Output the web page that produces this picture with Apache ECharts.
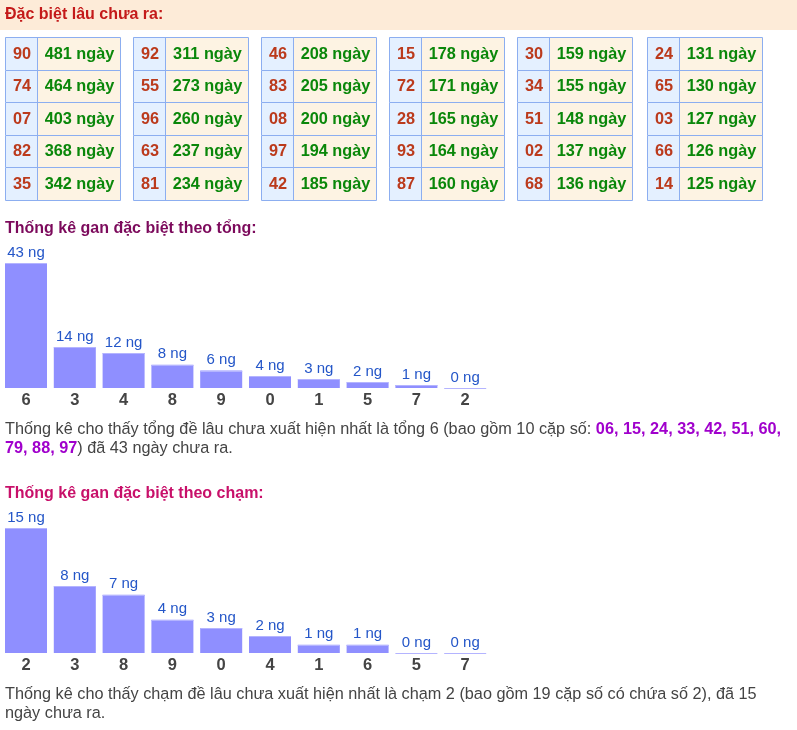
<!DOCTYPE html>
<html>
<head>
<meta charset="utf-8">
<script src="https://cdn.jsdelivr.net/npm/echarts@6/dist/echarts.min.js"></script>
<style>
html,body{margin:0;padding:0;background:#fff;}
#main{width:797px;height:730px;}
</style>
</head>
<body>
<div id="main"></div>
<script>
// ---- data ----
const tableNums = [
  ['90','74','07','82','35'],
  ['92','55','96','63','81'],
  ['46','83','08','97','42'],
  ['15','72','28','93','87'],
  ['30','34','51','02','68'],
  ['24','65','03','66','14']
];
const tableDays = [
  [481,464,403,368,342],
  [311,273,260,237,234],
  [208,205,200,194,185],
  [178,171,165,164,160],
  [159,155,148,137,136],
  [131,130,127,126,125]
];
const rowLabels = ['r1','r2','r3','r4','r5'];
const tongCats = ['6','3','4','8','9','0','1','5','7','2'];
const tongVals = [43,14,12,8,6,4,3,2,1,0];
const chamCats = ['2','3','8','9','0','4','1','6','5','7'];
const chamVals = [15,8,7,4,3,2,1,1,0,0];
const tongPairs = ['06','15','24','33','42','51','60','79','88','97'];

const FONT = '"Liberation Sans", Arial, sans-serif';
const chart = echarts.init(document.getElementById('main'), null, {renderer:'canvas'});

const grids = [], xAxes = [], yAxes = [], series = [];
const groupLeft = [5,133,261,389,517,647];

tableNums.forEach((col, g) => {
  grids.push({left: groupLeft[g], top: 37, width: 115, height: 162.5});
  xAxes.push({type:'value', gridIndex:g, min:0, max:1, show:false});
  yAxes.push({type:'category', gridIndex:g, data:rowLabels, inverse:true, show:false});
  series.push({
    type:'custom', xAxisIndex:g, yAxisIndex:g,
    data: col.map((n,i)=>[i, n, tableDays[g][i]]),
    renderItem: function(params, api){
      const row = api.value(0);
      const c = api.coord([0, row]);
      const sz = api.size([1, 1]);
      const w = sz[0], h = sz[1];
      const x0 = Math.round(c[0]), x1 = Math.round(c[0] + w);
      const xs = Math.round(c[0] + w * 0.28);
      const y0 = Math.round(c[1] - h/2), y1 = Math.round(c[1] + h/2);
      const cy = (y0 + y1) / 2;
      const num = tableNums[g][row], days = tableDays[g][row];
      return {type:'group', children:[
        {type:'rect', shape:{x:x0, y:y0, width:xs-x0, height:y1-y0}, style:{fill:'#e4f0ff'}},
        {type:'rect', shape:{x:xs, y:y0, width:x1-xs, height:y1-y0}, style:{fill:'#fdf3e3'}},
        {type:'rect', shape:{x:x0+0.5, y:y0+0.5, width:x1-x0, height:y1-y0}, style:{fill:null, stroke:'#8caef0', lineWidth:1}},
        {type:'line', shape:{x1:xs+0.5, y1:y0, x2:xs+0.5, y2:y1}, style:{stroke:'#8caef0', lineWidth:1}},
        {type:'text', style:{text:num, x:(x0+xs)/2+1, y:cy+1, align:'center', verticalAlign:'middle',
          font:'bold 16.3px ' + FONT, fill:'#bb3a1c'}},
        {type:'text', style:{text:days + ' ngày', x:(xs+x1)/2+1, y:cy+1, align:'center', verticalAlign:'middle',
          font:'bold 16.3px ' + FONT, fill:'#0a870a'}}
      ]};
    }
  });
});

function addBarChart(cats, vals, top) {
  const gi = grids.length;
  grids.push({left: 1.6, top: top, width: 488, height: 125});
  xAxes.push({type:'category', gridIndex:gi, data:cats,
    axisLine:{show:false}, axisTick:{show:false},
    axisLabel:{margin:4, fontSize:16.5, fontWeight:'bold', color:'#444', fontFamily:FONT}});
  yAxes.push({type:'value', gridIndex:gi, min:0, max:Math.max.apply(null, vals), show:false, splitLine:{show:false}});
  series.push({
    type:'bar', xAxisIndex:gi, yAxisIndex:gi, data:vals, barWidth:42,
    itemStyle:{color:'#8f8fff'},
    label:{show:true, position:'top', distance:3, formatter:'{c} ng', fontSize:15, color:'#2456c8', fontFamily:FONT},
    silent:true, animation:false, z:2
  });
  series.push({
    type:'custom', xAxisIndex:gi, yAxisIndex:gi,
    data: vals.map((v,i)=>[i, v]),
    renderItem: function(params, api){
      const p = api.coord([api.value(0), api.value(1)]);
      const y = Math.round(p[1]) + 0.5;
      return {type:'line', shape:{x1:p[0]-21, y1:y, x2:p[0]+21, y2:y}, style:{stroke:'#b4b4ff', lineWidth:1}};
    },
    z:3, silent:true, animation:false
  });
}
addBarChart(tongCats, tongVals, 263);
addBarChart(chamCats, chamVals, 528);

const pairsRich1 = tongPairs.slice(0,7).map(p=>'{b|' + p + '}').join('{b|, }') + '{b|,}';
const pairsRich2 = tongPairs.slice(7).map(p=>'{b|' + p + '}').join('{b|, }');
const PF = 16.25;
const richStyle = {
  a:{fontSize:PF, fontFamily:FONT, fill:'#444'},
  b:{fontSize:PF, fontFamily:FONT, fill:'#a000cc', fontWeight:'bold'}
};

const graphic = [
  {type:'rect', shape:{x:0, y:0, width:797, height:30}, style:{fill:'#fdebd8'}, z:-1},
  {type:'text', x:5, y:15, style:{text:'Đặc biệt lâu chưa ra:', font:'bold 16px ' + FONT, fill:'#c41a1a', verticalAlign:'middle'}},
  {type:'text', x:5, y:229, style:{text:'Thống kê gan đặc biệt theo tổng:', font:'bold 16px ' + FONT, fill:'#7c0a5c', verticalAlign:'middle'}},
  {type:'text', x:5, y:430, style:{text:'{a|Thống kê cho thấy tổng đề lâu chưa xuất hiện nhất là tổng ' + tongCats[0] + ' (bao gồm 10 cặp số: }' + pairsRich1,
    rich:richStyle, verticalAlign:'middle'}},
  {type:'text', x:5, y:449, style:{text: pairsRich2 + '{a|) đã ' + tongVals[0] + ' ngày chưa ra.}',
    rich:richStyle, verticalAlign:'middle'}},
  {type:'text', x:5, y:494, style:{text:'Thống kê gan đặc biệt theo chạm:', font:'bold 16px ' + FONT, fill:'#c8106a', verticalAlign:'middle'}},
  {type:'text', x:5, y:695, style:{text:'Thống kê cho thấy chạm đề lâu chưa xuất hiện nhất là chạm ' + chamCats[0] + ' (bao gồm 19 cặp số có chứa số 2), đã ' + chamVals[0],
    font:PF + 'px ' + FONT, fill:'#444', verticalAlign:'middle'}},
  {type:'text', x:5, y:714, style:{text:'ngày chưa ra.', font:PF + 'px ' + FONT, fill:'#444', verticalAlign:'middle'}}
];

chart.setOption({
  animation:false,
  grid:grids, xAxis:xAxes, yAxis:yAxes, series:series, graphic:graphic
});
</script>
</body>
</html>
